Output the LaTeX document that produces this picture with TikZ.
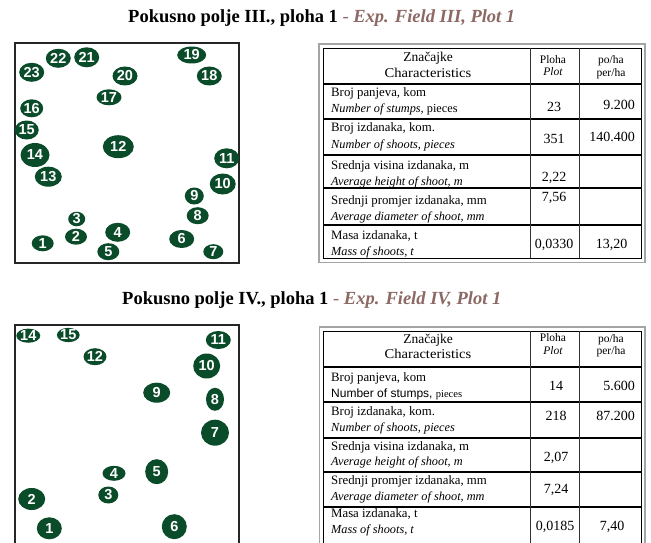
\documentclass[tikz,border=0pt]{standalone}
\usepackage{fontspec}
\setmainfont{Liberation Serif}
\newfontfamily\numfont{Liberation Sans}
\usetikzlibrary{shapes.geometric}
\definecolor{treegreen}{RGB}{10,75,42}
\definecolor{engcol}{RGB}{140,105,100}
\definecolor{framegray}{RGB}{165,165,165}
\tikzset{
 tree/.style 2 args={ellipse, fill=treegreen, text=white, inner sep=0pt,
   minimum width=#1, minimum height=#2, font=\numfont\bfseries\fontsize{14.5}{15}\selectfont},
 plotframe/.style={draw=black!85, line width=1.8pt},
 outerframe/.style={draw=framegray, line width=1.6pt},
 innerframe/.style={draw=black, line width=0.9pt},
 rowline/.style={draw=black, line width=1.8pt},
 colline/.style={draw=black!80, line width=0.9pt},
 ttl/.style={anchor=base west, inner sep=0pt, font=\fontsize{18.5}{20}\selectfont},
 cellA/.style={anchor=base west, inner sep=0pt, font=\fontsize{12.8}{14}\selectfont},
 cellB/.style={anchor=base west, inner sep=0pt, font=\itshape\fontsize{12.3}{14}\selectfont},
 head/.style={anchor=base, inner sep=0pt, font=\fontsize{13.5}{15}\selectfont},
 headsm/.style={anchor=base, inner sep=0pt, font=\fontsize{11.5}{12}\selectfont},
 val/.style={anchor=base, inner sep=0pt, font=\fontsize{14}{16}\selectfont},
 valr/.style={anchor=base east, inner sep=0pt, font=\fontsize{14}{16}\selectfont},
}
\begin{document}
\begin{tikzpicture}[x=1pt,y=-1pt]
\clip (0,0) rectangle (651,543);
\fill[white] (0,0) rectangle (651,543);

% ---------- Titles ----------
\node[ttl] (title1) at (128,23) {\textbf{Pokusno polje III., ploha 1} \textcolor{engcol}{- \textit{\textbf{Exp. Field III, Plot 1}}}};
\node[ttl] (title2) at (122,304.5) {\textbf{Pokusno polje IV., ploha 1} \textcolor{engcol}{- \textit{\textbf{Exp. Field IV, Plot 1}}}};

% ---------- Plot III ----------
\draw[plotframe] (15,43) rectangle (239,263);
\node[tree={22pt}{16pt}] (a1) at (42.7,243.3) {1};
\node[tree={22pt}{16pt}] (a2) at (76,236.7) {2};
\node[tree={17pt}{14pt}] (a3) at (76.7,219) {3};
\node[tree={25pt}{19pt}] (a4) at (117.7,232.3) {4};
\node[tree={22pt}{17pt}] (a5) at (108.3,251.7) {5};
\node[tree={25pt}{18pt}] (a6) at (181.7,239) {6};
\node[tree={20pt}{15pt}] (a7) at (213.3,251.7) {7};
\node[tree={22pt}{17pt}] (a8) at (197.7,215.7) {8};
\node[tree={19pt}{17pt}] (a9) at (194.3,196) {9};
\node[tree={26pt}{21pt}] (a10) at (222.7,184) {10};
\node[tree={25pt}{20pt}] (a11) at (226.7,158.3) {11};
\node[tree={31pt}{23pt}] (a12) at (118.3,146.7) {12};
\node[tree={27pt}{20pt}] (a13) at (48.3,176.7) {13};
\node[tree={29pt}{24pt}] (a14) at (35,155) {14};
\node[tree={24pt}{19pt}] (a15) at (26.7,130) {15};
\node[tree={23pt}{18pt}] (a16) at (31.7,108.3) {16};
\node[tree={25pt}{16pt}] (a17) at (109,97.3) {17};
\node[tree={25pt}{19pt}] (a18) at (209.3,76) {18};
\node[tree={29pt}{17pt}] (a19) at (191.7,55) {19};
\node[tree={25pt}{19pt}] (a20) at (125,76) {20};
\node[tree={25pt}{20pt}] (a21) at (86.7,57.3) {21};
\node[tree={25pt}{19pt}] (a22) at (58.3,58.3) {22};
\node[tree={25pt}{19pt}] (a23) at (31.7,72.3) {23};

% ---------- Plot IV ----------
\draw[plotframe] (15,325) rectangle (239,560);
\node[tree={25pt}{22pt}] (b1) at (49.3,528.3) {1};
\node[tree={27pt}{22pt}] (b2) at (31.7,499) {2};
\node[tree={20pt}{17pt}] (b3) at (108.3,495) {3};
\node[tree={23pt}{15pt}] (b4) at (114,473.3) {4};
\node[tree={23pt}{25pt}] (b5) at (156.7,471.7) {5};
\node[tree={25pt}{25pt}] (b6) at (174.3,526.7) {6};
\node[tree={28pt}{26pt}] (b7) at (215,432.7) {7};
\node[tree={18pt}{23pt}] (b8) at (215,399.3) {8};
\node[tree={27pt}{20pt}] (b9) at (156.7,392.7) {9};
\node[tree={27pt}{25pt}] (b10) at (206.7,366) {10};
\node[tree={25pt}{18pt}] (b11) at (218.3,340) {11};
\node[tree={23pt}{17pt}] (b12) at (95,356.7) {12};
\node[tree={24pt}{14pt}] (b14) at (28.3,335.7) {14};
\node[tree={20pt}{14pt}] (b15) at (68.3,335) {15};

% ---------- Table III ----------
\draw[outerframe] (319,44) rectangle (645,262.5);
\draw[innerframe] (323.3,48.3) rectangle (641.7,258.3);
\foreach \yy in {84.3,119.3,155,188.3,225} \draw[rowline] (323.3,\yy) -- (641.7,\yy);
\draw[colline] (530,48.3) -- (530,258.3);
\draw[colline] (579.3,48.3) -- (579.3,258.3);

\node[head] (t1h1) at (428,61.5) {Značajke};
\node[head] (t1h2) at (428,77.7) {\scalebox{1.08}[1]{Characteristics}};
\node[headsm] (t1h3) at (553,63.5) {Ploha};
\node[headsm,font=\itshape\fontsize{11.5}{12}\selectfont] (t1h4) at (553,76) {Plot};
\node[headsm] (t1h5) at (611,63.3) {po/ha};
\node[headsm] (t1h6) at (611,76.7) {per/ha};

\node[cellA] (t1r1a) at (331,96.3) {Broj panjeva, kom};
\node[cellB] (t1r1b) at (331,112.3) {Number of stumps, \upshape pieces};
\node[cellA] (t1r2a) at (331,131.7) {Broj izdanaka, kom.};
\node[cellB] (t1r2b) at (331,148.5) {Number of shoots, pieces};
\node[cellA] (t1r3a) at (331,169.3) {Srednja visina izdanaka, m};
\node[cellB] (t1r3b) at (331,185) {Average height of shoot, m};
\node[cellA] (t1r4a) at (331,204) {Srednji promjer izdanaka, mm};
\node[cellB] (t1r4b) at (331,220) {Average diameter of shoot, mm};
\node[cellA] (t1r5a) at (331,239) {Masa izdanaka, t};
\node[cellB] (t1r5b) at (331,255) {Mass of shoots, t};

\node[val] (t1v1) at (554,111.7) {23};
\node[valr] (t1w1) at (635,109.3) {9.200};
\node[val] (t1v2) at (554,143.3) {351};
\node[valr] (t1w2) at (635,141.7) {140.400};
\node[val] (t1v3) at (554,181.7) {2,22};
\node[val] (t1v4) at (554,201.7) {7,56};
\node[val] (t1v5) at (554,248.3) {0,0330};
\node[val] (t1w5) at (611.5,248.3) {13,20};

% ---------- Table IV ----------
\draw[outerframe] (319.3,326.7) rectangle (645,560);
\draw[innerframe] (323.3,331) rectangle (641.7,560);
\foreach \yy in {366.7,402.3,438.3,471.7,506.7} \draw[rowline] (323.3,\yy) -- (641.7,\yy);
\draw[colline] (530,331) -- (530,560);
\draw[colline] (579.3,331) -- (579.3,560);

\node[head] (t2h1) at (428,343) {Značajke};
\node[head] (t2h2) at (428,358.5) {\scalebox{1.08}[1]{Characteristics}};
\node[headsm] (t2h3) at (553,341) {Ploha};
\node[headsm,font=\itshape\fontsize{11.5}{12}\selectfont] (t2h4) at (553,354) {Plot};
\node[headsm] (t2h5) at (611,342) {po/ha};
\node[headsm] (t2h6) at (611,354.5) {per/ha};

\node[cellA] (t2r1a) at (331,381.7) {Broj panjeva, kom};
\node[cellB] (t2r1b) at (331,397) {\numfont\upshape\fontsize{12}{14}\selectfont Number of stumps, \rmfamily\fontsize{10.5}{12}\selectfont pieces};
\node[cellA] (t2r2a) at (331,415) {Broj izdanaka, kom.};
\node[cellB] (t2r2b) at (331,431.7) {Number of shoots, pieces};
\node[cellA] (t2r3a) at (331,450) {Srednja visina izdanaka, m};
\node[cellB] (t2r3b) at (331,465.5) {Average height of shoot, m};
\node[cellA] (t2r4a) at (331,484) {Srednji promjer izdanaka, mm};
\node[cellB] (t2r4b) at (331,500) {Average diameter of shoot, mm};
\node[cellA] (t2r5a) at (331,517.5) {Masa izdanaka, t};
\node[cellB] (t2r5b) at (331,533) {Mass of shoots, t};

\node[val] (t2v1) at (556,390) {14};
\node[valr] (t2w1) at (635,390) {5.600};
\node[val] (t2v2) at (556,420.5) {218};
\node[valr] (t2w2) at (635,420) {87.200};
\node[val] (t2v3) at (556,461) {2,07};
\node[val] (t2v4) at (556,493) {7,24};
\node[val] (t2v5) at (555,530) {0,0185};
\node[val] (t2w5) at (612,530) {7,40};
\end{tikzpicture}
\end{document}
